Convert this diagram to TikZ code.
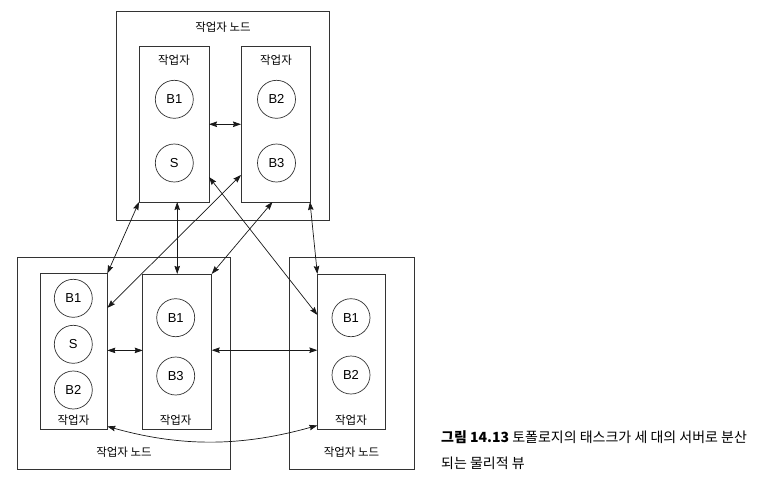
\documentclass[tikz,border=0pt]{standalone}
\usepackage{fontspec}
\setmainfont{Liberation Sans}
\newfontfamily\kr{Noto Sans CJK KR}
\usetikzlibrary{arrows.meta,calc}
\begin{document}
\begin{tikzpicture}[x=1pt,y=-1pt,
  box/.style={draw=black!80, line width=0.8pt, rectangle, inner sep=0pt, outer sep=0pt},
  ball/.style={draw=black!80, line width=0.7pt, circle, minimum size=38pt, inner sep=0pt, outer sep=0pt, font=\fontsize{13}{13}\selectfont},
  lbl/.style={font=\kr\fontsize{11.5}{12}\selectfont, inner sep=0pt},
  conn/.style={{Stealth[length=8pt,width=5.5pt,inset=1pt]}-{Stealth[length=8pt,width=5.5pt,inset=1pt]}, line width=0.7pt, black!90}]
\fill[white] (0,0) rectangle (774,493);
\useasboundingbox (0,0) rectangle (774,493);

% top worker node
\node[box, minimum width=212.3pt, minimum height=209pt] (N1) at (222.85,115.5) {};
\node[lbl] (N1l) at (223,27) {작업자 노드};
\node[box, minimum width=70pt, minimum height=155.5pt] (TL) at (174,124.25) {};
\node[box, minimum width=69pt, minimum height=155.5pt] (TR) at (275.5,124.25) {};
\node[lbl] (TLl) at (174,60) {작업자};
\node[lbl] (TRl) at (276,60) {작업자};
\node[ball] (tb1) at (174.3,99.3) {B1};
\node[ball] (ts) at (174.3,163) {S};
\node[ball] (tb2) at (276.5,99.3) {B2};
\node[ball] (tb3) at (276.5,163) {B3};

% bottom-left worker node
\node[box, minimum width=213.4pt, minimum height=212pt] (N2) at (124,363.3) {};
\node[lbl] (N2l) at (124,452) {작업자 노드};
\node[box, minimum width=67.3pt, minimum height=156pt] (BL) at (73.7,351.4) {};
\node[box, minimum width=69pt, minimum height=155.5pt] (BM) at (177.2,351.7) {};
\node[lbl] (BLl) at (73.5,420) {작업자};
\node[lbl] (BMl) at (175.7,420) {작업자};
\node[ball] (lb1) at (73.3,298.3) {B1};
\node[ball] (ls) at (73.3,344.3) {S};
\node[ball] (lb2) at (73.3,390) {B2};
\node[ball] (mb1) at (175.7,317.7) {B1};
\node[ball] (mb3) at (175.7,376) {B3};

% bottom-right worker node
\node[box, minimum width=124.7pt, minimum height=212pt] (N3) at (351.7,363.3) {};
\node[lbl] (N3l) at (351.5,452) {작업자 노드};
\node[box, minimum width=67.7pt, minimum height=155.5pt] (BR) at (351.2,351.7) {};
\node[lbl] (BRl) at (351,420) {작업자};
\node[ball] (rb1) at (351,317.7) {B1};
\node[ball] (rb2) at (351,375) {B2};

% connectors
\draw[conn] (TL.east) -- (TR.west);
\draw[conn] (TL.south west) -- (BL.north east);
\draw[conn] (BM.north |- TL.south) -- (BM.north);
\draw[conn] ($(TR.south west)+(0,-27)$) -- ($(BL.north east)+(0,34.5)$);
\draw[conn] ($(TL.south east)+(0,-25)$) -- ($(BR.north west)+(0,41)$);
\draw[conn] ($(TR.south)+(-3,0)$) -- (BM.north east);
\draw[conn] (TR.south east) -- (BR.north west);
\draw[conn] ($(BL.east)+(0,-1)$) -- ($(BM.west |- BL.east)+(0,-1)$);
\draw[conn] ($(BM.east)+(0,-1.5)$) -- ($(BR.west |- BM.east)+(0,-1.5)$);
\draw[conn] ($(BL.south east)+(0,-3)$) .. controls ($(BL.south east)+(75,18)$) and ($(BR.south west)+(-75,17)$) .. ($(BR.south west)+(0,-4)$);

% caption
\node[anchor=base west, align=left, inner sep=0pt, font=\kr\fontsize{14}{26}\selectfont] (cap) at (441,468)
  {{\bfseries 그림 14.13} 토폴로지의 태스크가 세 대의 서버로 분산\\되는 물리적 뷰};
\end{tikzpicture}
\end{document}
